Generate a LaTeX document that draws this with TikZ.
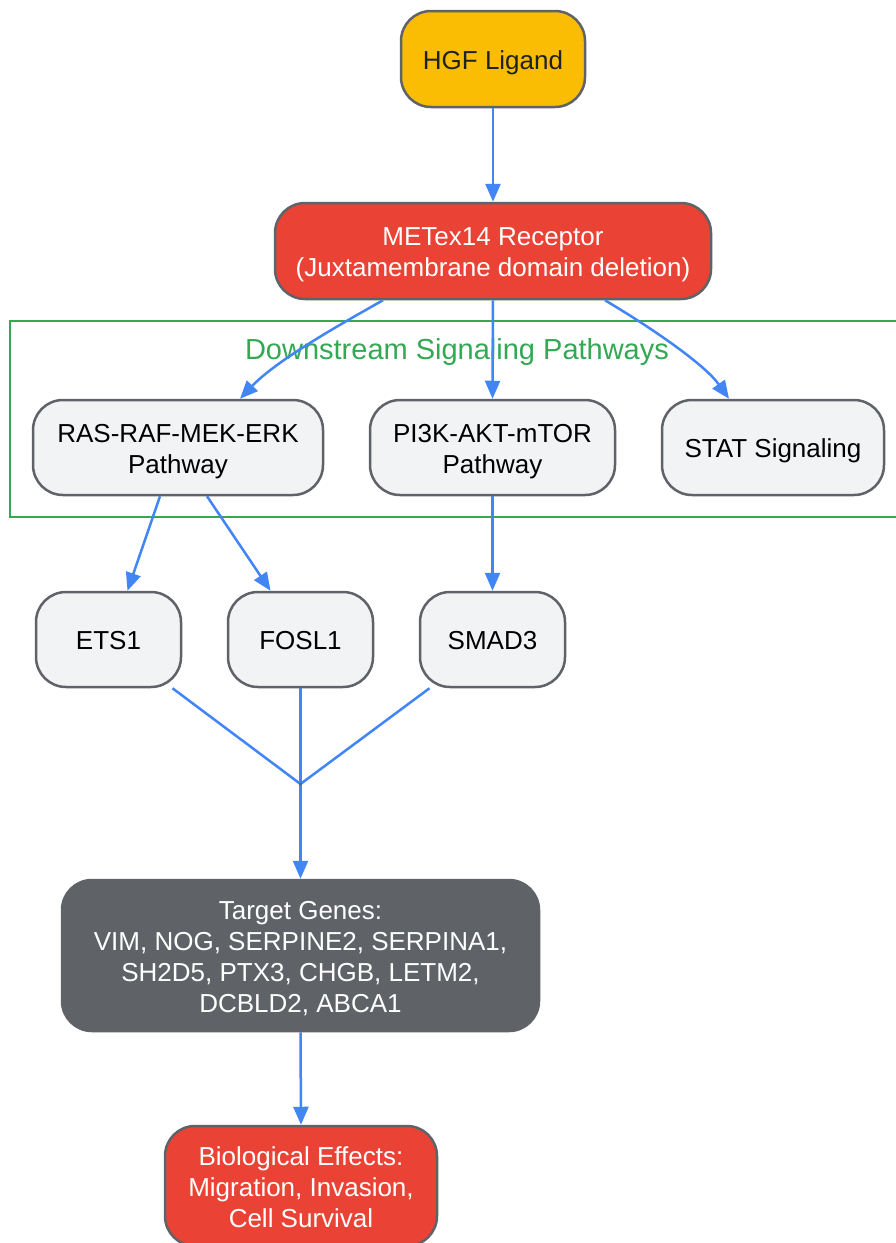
\documentclass[tikz,border=0pt]{standalone}
\usepackage{fontspec}
\setmainfont{Liberation Sans}
\usetikzlibrary{arrows.meta,calc}
\definecolor{gyellow}{HTML}{FBBC04}
\definecolor{gred}{HTML}{EA4335}
\definecolor{glight}{HTML}{F1F3F4}
\definecolor{gborder}{HTML}{5F6368}
\definecolor{gdark}{HTML}{5F6368}
\definecolor{gtext}{HTML}{202124}
\definecolor{gblue}{HTML}{4285F4}
\definecolor{ggreen}{HTML}{34A853}
\newcommand{\nodefont}{\fontsize{26}{31}\selectfont}
\newcommand{\titlefont}{\fontsize{29}{34}\selectfont}
\newcommand{\boxtext}[1]{\raisebox{0pt}[\height][\dimexpr\depth-8.5pt\relax]{\begin{tabular}{@{}c@{}}#1\end{tabular}}}
\tikzset{
  box/.style={draw=gborder, line width=2.5pt, rounded corners=30pt, align=center,
    font=\nodefont, inner sep=0pt},
  lightbox/.style={box, fill=glight, text=black},
  yellowbox/.style={box, fill=gyellow, text=gtext},
  redbox/.style={box, fill=gred, text=white},
  darkbox/.style={box, fill=gdark, text=white},
  flow/.style={draw=gblue, line width=2.5pt, -{Triangle[length=18pt,width=15pt]}},
  flowplain/.style={draw=gblue, line width=2.5pt},
  frame/.style={draw=ggreen, line width=2pt},
}
\begin{document}
\begin{tikzpicture}[x=1pt,y=-1pt]
\useasboundingbox (0,0) rectangle (895,1243);
\fill[white] (0,0) rectangle (895,1243);
% cluster frame
\draw[frame] (10,321) rectangle (905,517);
\node[font=\titlefont, text=ggreen, inner sep=0pt] (title) at (457,352) {Downstream Signaling Pathways};
% nodes
\node[yellowbox, minimum width=184pt, minimum height=96pt] (hgf) at (493,59) {\boxtext{HGF Ligand}};
\node[redbox, minimum width=436pt, minimum height=96pt] (met) at (493,251) {\boxtext{METex14 Receptor\\(Juxtamembrane domain deletion)}};
\node[lightbox, minimum width=290pt, minimum height=95pt] (ras) at (178,447.5) {\boxtext{RAS-RAF-MEK-ERK\\Pathway}};
\node[lightbox, minimum width=245pt, minimum height=95pt] (pi3k) at (492.5,447.5) {\boxtext{PI3K-AKT-mTOR\\Pathway}};
\node[lightbox, minimum width=222pt, minimum height=95pt] (stat) at (773,447.5) {\boxtext{STAT Signaling}};
\node[lightbox, minimum width=145pt, minimum height=95pt] (ets1) at (108.5,639.5) {\boxtext{ETS1}};
\node[lightbox, minimum width=145pt, minimum height=95pt] (fosl1) at (300.5,639.5) {\boxtext{FOSL1}};
\node[lightbox, minimum width=145pt, minimum height=95pt] (smad3) at (492.5,639.5) {\boxtext{SMAD3}};
\node[darkbox, minimum width=477pt, minimum height=151pt] (target) at (300.5,955.5) {\boxtext{Target Genes:\\VIM, NOG, SERPINE2, SERPINA1,\\SH2D5, PTX3, CHGB, LETM2,\\DCBLD2, ABCA1}};
\node[redbox, minimum width=272pt, minimum height=120pt] (bio) at (301,1186) {\boxtext{Biological Effects:\\Migration, Invasion,\\Cell Survival}};
\coordinate (junc) at (300.5,784);
% connectors
\draw[flow] (hgf.south) -- (met.north);
\draw[flow] ([xshift=-110pt]met.south) .. controls (330,330) and (275,362) .. ([xshift=62pt]ras.north);
\draw[flow] (met.south) -- (pi3k.north);
\draw[flow] ([xshift=112pt]met.south) .. controls (655,330) and (705,365) .. ([xshift=-44pt]stat.north);
\draw[flow] ([xshift=-18pt]ras.south) -- ([xshift=19pt]ets1.north);
\draw[flow] ([xshift=29pt]ras.south) -- ([xshift=-30pt]fosl1.north);
\draw[flow] (pi3k.south) -- (smad3.north);
\draw[flowplain] ([xshift=64pt]ets1.south) -- (junc);
\draw[flowplain] (fosl1.south) -- (junc);
\draw[flowplain] ([xshift=-63pt]smad3.south) -- (junc);
\draw[flow] (junc) -- (target.north);
\fill[gborder] (junc) circle (1.6pt);
\draw[flow] (target.south) -- (bio.north);
\end{tikzpicture}
\end{document}
